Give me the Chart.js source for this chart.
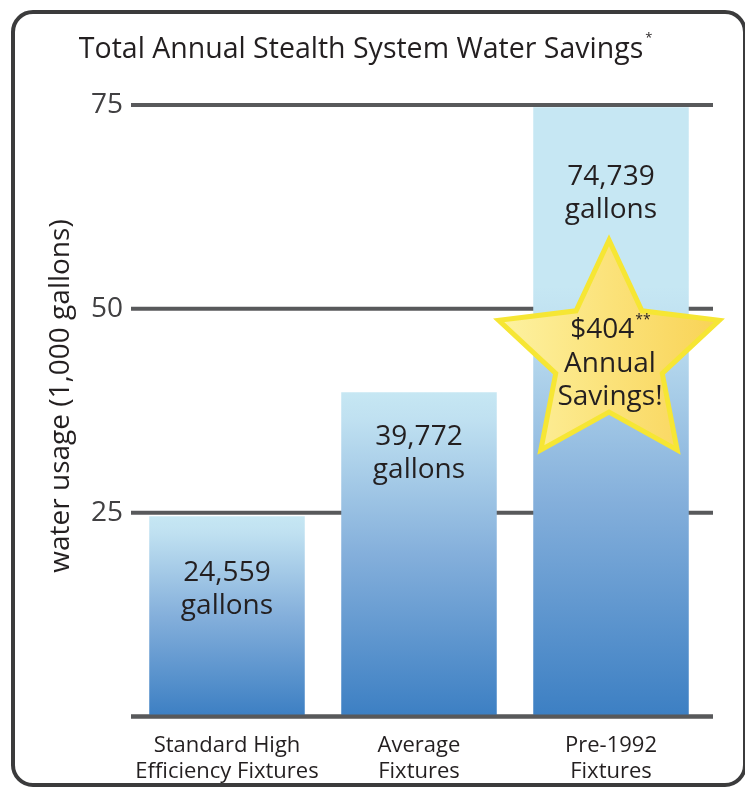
<!DOCTYPE html>
<html>
<head>
<meta charset="utf-8">
<title>Total Annual Stealth System Water Savings</title>
<script src="https://cdn.jsdelivr.net/npm/chart.js@4.4.1/dist/chart.umd.min.js"></script>
<style>
  html, body { margin: 0; padding: 0; background: #fff; }
  #wrap { position: relative; width: 745px; height: 791px; overflow: hidden; }
  #frame {
    position: absolute; left: 11px; top: 10px; width: 736px; height: 777px;
    border: 4px solid #3b3b3c; border-radius: 22px; box-sizing: border-box;
  }
  canvas { position: absolute; left: 0; top: 0; }
</style>
</head>
<body>
<div id="wrap">
  <div id="frame"></div>
  <canvas id="savingsChart" width="745" height="791"></canvas>
</div>
<script>
// Datos del gráfico
const categories = [['Standard High', 'Efficiency Fixtures'], ['Average', 'Fixtures'], ['Pre-1992', 'Fixtures']];
const usage = [24.559, 39.772, 74.739];          // miles de galones
const usageLabels = ['24,559', '39,772', '74,739'];
const yTicks = [25, 50, 75];
const savingsText = ['$404', 'Annual', 'Savings!'];

const FONT = '"Open Sans", Lato, sans-serif';
const INK = '#231f20';
const GRID = '#58595b';

// distancia (px) desde el tope de cada barra hasta la primera línea de su etiqueta
const labelDrop = [65, 53, 78];

// Degradado de cada barra: celeste arriba, azul abajo
function barFill(ctx) {
  const chart = ctx.chart;
  if (ctx.type !== 'data' || !chart.chartArea) return '#7fa9d7';
  const ys = chart.scales.y;
  const bottom = ys.getPixelForValue(0);
  const top = ys.getPixelForValue(ctx.raw);
  const start = Math.max(top, bottom - 430);
  const g = chart.ctx.createLinearGradient(0, start, 0, bottom);
  g.addColorStop(0, '#c6e7f3');
  g.addColorStop(0.08, '#c0e1f1');
  g.addColorStop(0.5, '#84afdb');
  g.addColorStop(1, '#3c7fc3');
  return g;
}

function hLine(c, y, x0, x1) {
  c.beginPath();
  c.moveTo(x0, y);
  c.lineTo(x1, y);
  c.stroke();
}

const decorations = {
  id: 'decorations',
  beforeDatasetsDraw(chart) {
    const c = chart.ctx, area = chart.chartArea, ys = chart.scales.y;
    c.save();
    c.strokeStyle = GRID;
    c.lineWidth = 4;
    [0].concat(yTicks).forEach(v => hLine(c, ys.getPixelForValue(v), area.left, area.right + 6));
    c.restore();
  },
  afterDatasetsDraw(chart) {
    const c = chart.ctx, area = chart.chartArea, ys = chart.scales.y;
    const bars = chart.getDatasetMeta(0).data;
    c.save();

    // línea base sobre las barras
    c.strokeStyle = GRID;
    c.lineWidth = 4;
    hLine(c, ys.getPixelForValue(0), area.left, area.right + 6);

    // etiquetas dentro de las barras
    c.fillStyle = INK;
    c.textAlign = 'center';
    c.textBaseline = 'alphabetic';
    c.font = '28px ' + FONT;
    bars.forEach((bar, i) => {
      const y0 = bar.y + labelDrop[i];
      c.fillText(usageLabels[i], bar.x, y0);
      c.fillText('gallons', bar.x, y0 + 33);
    });

    // estrella sobre la tercera barra
    const last = bars[bars.length - 1];
    const cx = last.x - 2, cy = ys.getPixelForValue(44.2);
    const R = 116, r = 56;
    c.beginPath();
    for (let i = 0; i < 10; i++) {
      const a = -Math.PI / 2 + i * Math.PI / 5;
      const rad = i % 2 === 0 ? R : r;
      const px = cx + rad * Math.cos(a), py = cy + rad * Math.sin(a);
      if (i === 0) c.moveTo(px, py); else c.lineTo(px, py);
    }
    c.closePath();
    const sg = c.createLinearGradient(cx - R, 0, cx + R, 0);
    sg.addColorStop(0, '#fdf3a4');
    sg.addColorStop(0.5, '#fbe27a');
    sg.addColorStop(1, '#f9d254');
    c.fillStyle = sg;
    c.fill();
    c.strokeStyle = '#f6e634';
    c.lineWidth = 5;
    c.lineJoin = 'miter';
    c.stroke();

    // texto de la estrella
    c.fillStyle = INK;
    c.font = '28px ' + FONT;
    const w0 = c.measureText(savingsText[0]).width;
    c.font = '14px ' + FONT;
    const ws = c.measureText('**').width;
    const sx = cx + 1 - (w0 + ws) / 2;
    c.textAlign = 'left';
    c.font = '28px ' + FONT;
    c.fillText(savingsText[0], sx, cy - 18);
    c.font = '14px ' + FONT;
    c.fillText('**', sx + w0 + 1, cy - 32);
    c.textAlign = 'center';
    c.font = '28px ' + FONT;
    c.fillText(savingsText[1], cx + 1, cy + 16);
    c.fillText(savingsText[2], cx + 1, cy + 49);

    // título
    const title = 'Total Annual Stealth System Water Savings';
    c.font = '28.5px ' + FONT;
    const tw = c.measureText(title).width;
    const tx = 361 - tw / 2;
    c.textAlign = 'left';
    c.fillText(title, tx, 58);
    c.font = '13px ' + FONT;
    c.fillText('*', tx + tw + 2, 42);

    // título del eje Y
    c.translate(61, 396);
    c.rotate(-Math.PI / 2);
    c.textAlign = 'center';
    c.textBaseline = 'middle';
    c.font = '28px ' + FONT;
    c.fillText('water usage (1,000 gallons)', 0, 0);
    c.restore();
  }
};

new Chart(document.getElementById('savingsChart'), {
  type: 'bar',
  data: {
    labels: categories,
    datasets: [{
      data: usage,
      backgroundColor: barFill,
      borderWidth: 0,
      categoryPercentage: 1,
      barPercentage: 0.81
    }]
  },
  options: {
    responsive: false,
    animation: false,
    layout: { padding: { left: 30, right: 38, top: 105, bottom: 0 } },
    plugins: {
      legend: { display: false },
      tooltip: { enabled: false }
    },
    scales: {
      x: {
        grid: { display: false },
        border: { display: false },
        ticks: {
          color: INK,
          padding: 8,
          maxRotation: 0,
          autoSkip: false,
          font: { family: FONT, size: 22, lineHeight: 1.18 }
        },
        afterFit(scale) { scale.height = 74.5; }
      },
      y: {
        min: 0,
        max: 75,
        grid: { display: false, drawTicks: false },
        border: { display: false },
        ticks: {
          stepSize: 25,
          padding: 8,
          color: '#414042',
          font: { family: FONT, size: 28 },
          callback: v => (yTicks.includes(v) ? String(v) : '')
        },
        afterFit(scale) { scale.width = 101; }
      }
    }
  },
  plugins: [decorations]
});
</script>
</body>
</html>
